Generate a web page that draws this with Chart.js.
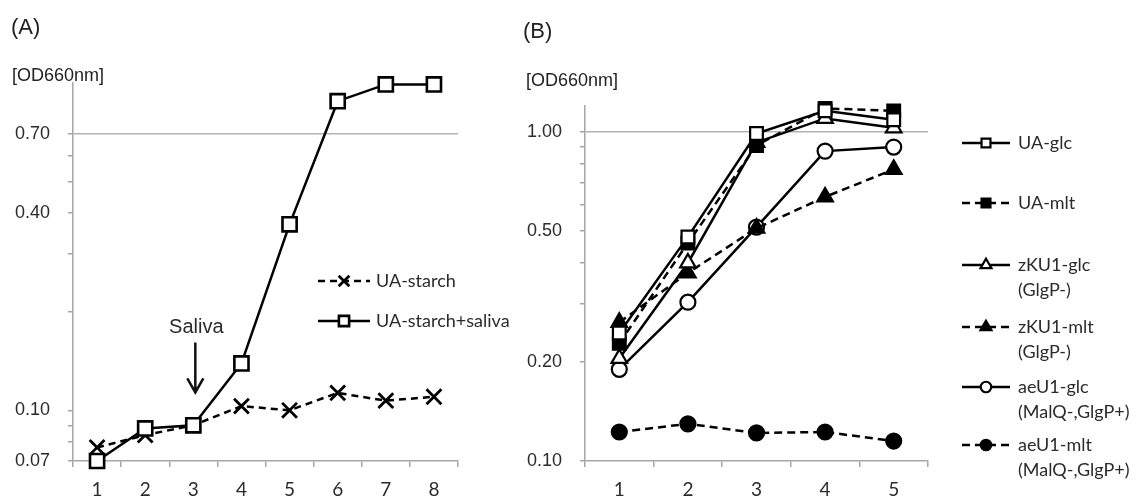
<!DOCTYPE html>
<html>
<head>
<meta charset="utf-8">
<script src="https://cdn.jsdelivr.net/npm/chart.js@4"></script>
<style>
  body { margin: 0; background: #fff; }
  #wrap { position: relative; width: 1138px; height: 500px; overflow: hidden; }
  canvas { position: absolute; top: 0; }
  .lbl { position: absolute; font-family: "Liberation Sans", Arial, sans-serif; color: #222; line-height: 1; white-space: nowrap; }
</style>
</head>
<body>
<div id="wrap">
  <canvas id="chartB" width="638" height="500" style="left:500px"></canvas>
  <canvas id="chartA" width="530" height="500" style="left:0"></canvas>
  <div class="lbl" style="left:11px;top:16px;font-size:22px">(A)</div>
  <div class="lbl" style="left:12px;top:66px;font-size:18px">[OD660nm]</div>
  <div class="lbl" style="left:523px;top:20px;font-size:22px">(B)</div>
  <div class="lbl" style="left:526px;top:71px;font-size:18px">[OD660nm]</div>
</div>
<script>
// ---- panel A data ----
const daysA = ['1', '2', '3', '4', '5', '6', '7', '8'];
const uaStarch = [0.077, 0.084, 0.090, 0.103, 0.100, 0.113, 0.107, 0.110];
const uaStarchSaliva = [0.070, 0.088, 0.090, 0.139, 0.370, 0.880, 0.990, 0.990];
const yTicksA = [0.07, 0.08, 0.09, 0.1, 0.2, 0.3, 0.4, 0.5, 0.6, 0.7];
const yLabelsA = [0.07, 0.1, 0.4, 0.7];
const gridLineA = 0.7;
// saliva added at day 3
const salivaDay = '3';
const salivaArrow = [0.161, 0.1134];
const salivaText = 0.179;

// ---- panel B data ----
const daysB = ['1', '2', '3', '4', '5'];
const uaGlc = [0.245, 0.48, 0.99, 1.16, 1.09];
const uaMlt = [0.228, 0.46, 0.91, 1.18, 1.16];
const zku1Glc = [0.205, 0.40, 0.93, 1.10, 1.03];
const zku1Mlt = [0.264, 0.373, 0.51, 0.635, 0.77];
const aeu1Glc = [0.19, 0.304, 0.514, 0.875, 0.90];
const aeu1Mlt = [0.1225, 0.1297, 0.1217, 0.1225, 0.115];
const yTicksB = [0.1, 0.2, 0.3, 0.4, 0.5, 0.6, 0.7, 0.8, 0.9, 1.0];
const yLabelsB = [0.1, 0.2, 0.5, 1.0];
const gridLineB = 1.0;

const axisGray = '#a6a6a6';
const textCol = '#2b2b2b';
const calibriLike = 'Lato, "Open Sans", sans-serif';
const arialLike = '"Liberation Sans", Arial, sans-serif';

// line + marker legend, drawn beside the plot (built-in legend can't combine dash and marker)
const sideLegend = {
  id: 'sideLegend',
  afterDraw(chart, args, opts) {
    const ctx = chart.ctx;
    opts.rows.forEach((y, i) => {
      const ds = chart.data.datasets[i];
      ctx.save();
      ctx.strokeStyle = ds.borderColor;
      ctx.lineWidth = opts.lineWidth;
      ctx.setLineDash(ds.borderDash || []);
      ctx.beginPath();
      ctx.moveTo(opts.x, y);
      ctx.lineTo(opts.x + opts.len, y);
      ctx.stroke();
      ctx.setLineDash([]);
      ctx.fillStyle = ds.pointBackgroundColor;
      ctx.strokeStyle = ds.pointBorderColor;
      ctx.lineWidth = ds.pointBorderWidth;
      Chart.helpers.drawPoint(ctx, {
        pointStyle: ds.pointStyle, rotation: 0,
        radius: ds.pointRadius * opts.markerScale, borderWidth: ds.pointBorderWidth
      }, opts.x + opts.len / 2, y);
      ctx.fillStyle = textCol;
      ctx.font = opts.font;
      ctx.textBaseline = 'middle';
      ctx.textAlign = 'left';
      ds.label.split('\n').forEach((line, k) => {
        ctx.fillText(line, opts.textX, y + k * opts.lineGap);
      });
      ctx.restore();
    });
  }
};

const salivaMark = {
  id: 'salivaMark',
  afterDatasetsDraw(chart) {
    const { ctx, scales: { x, y } } = chart;
    const px = x.getPixelForValue(daysA.indexOf(salivaDay));
    const top = y.getPixelForValue(salivaArrow[0]);
    const tip = y.getPixelForValue(salivaArrow[1]);
    ctx.save();
    ctx.strokeStyle = '#111';
    ctx.lineWidth = 2.5;
    ctx.beginPath();
    ctx.moveTo(px + 2, top);
    ctx.lineTo(px + 2, tip);
    ctx.moveTo(px - 6, tip - 14);
    ctx.lineTo(px + 2, tip);
    ctx.lineTo(px + 10, tip - 14);
    ctx.stroke();
    ctx.fillStyle = textCol;
    ctx.font = '20px ' + arialLike;
    ctx.textAlign = 'center';
    ctx.textBaseline = 'middle';
    ctx.fillText('Saliva', px + 3, y.getPixelForValue(salivaText));
    ctx.restore();
  }
};

function logAxis(ticks, labels, gridAt, min, max, width) {
  return {
    type: 'logarithmic',
    min: min,
    max: max,
    afterBuildTicks: s => { s.ticks = ticks.map(v => ({ value: v })); },
    afterFit: s => { s.width = width; },
    ticks: {
      autoSkip: false,
      padding: 18,
      color: textCol,
      font: { family: arialLike, size: 18 },
      callback: v => labels.includes(v) ? v.toFixed(2) : ''
    },
    grid: {
      color: c => (c.tick && c.tick.value === gridAt) ? '#b3b3b3' : 'rgba(0,0,0,0)',
      tickColor: axisGray,
      tickLength: 5,
      lineWidth: 1.5
    },
    border: { color: axisGray, width: 1.5 }
  };
}

function catAxis() {
  return {
    type: 'category',
    offset: true,
    afterFit: s => { s.height = 39; },
    ticks: { color: textCol, padding: 11, font: { family: calibriLike, size: 19 } },
    grid: { offset: true, drawOnChartArea: false, color: axisGray, tickColor: axisGray, tickLength: 6, lineWidth: 1.5 },
    border: { color: axisGray, width: 1.5 }
  };
}

function series(label, data, dashed, style, radius, fill) {
  return {
    label: label,
    data: data,
    borderColor: '#000',
    borderWidth: 2.5,
    borderDash: dashed ? [8, 5] : [],
    pointStyle: style,
    pointRadius: radius,
    pointBorderWidth: 2.2,
    pointBorderColor: '#000',
    pointBackgroundColor: fill ? '#000' : '#fff',
    tension: 0,
    clip: false
  };
}

new Chart(document.getElementById('chartA'), {
  type: 'line',
  data: {
    labels: daysA,
    datasets: [
      Object.assign(series('UA-starch', uaStarch, true, 'crossRot', 10.5, false), { pointBorderWidth: 2.8, borderDash: [7, 5], order: 1 }),
      Object.assign(series('UA-starch+saliva', uaStarchSaliva, false, 'rect', 10, false), { pointBorderWidth: 2.6, order: 0 })
    ]
  },
  options: {
    responsive: false,
    animation: false,
    layout: { padding: { left: 0, top: 83, right: 72, bottom: 0 } },
    scales: {
      x: catAxis(),
      y: logAxis(yTicksA, yLabelsA, gridLineA, 0.07, 1.0, 73)
    },
    plugins: {
      legend: { display: false },
      tooltip: { enabled: false },
      sideLegend: { x: 318, len: 52, textX: 376, rows: [281, 321], lineWidth: 2.5, markerScale: 0.72, lineGap: 25, font: '18px ' + calibriLike }
    }
  },
  plugins: [sideLegend, salivaMark]
});

new Chart(document.getElementById('chartB'), {
  type: 'line',
  data: {
    labels: daysB,
    datasets: [
      series('UA-glc', uaGlc, false, 'rect', 9, false),
      series('UA-mlt', uaMlt, true, 'rect', 9, true),
      series('zKU1-glc\n(GlgP-)', zku1Glc, false, 'triangle', 9, false),
      series('zKU1-mlt\n(GlgP-)', zku1Mlt, true, 'triangle', 9, true),
      series('aeU1-glc\n(MalQ-,GlgP+)', aeu1Glc, false, 'circle', 7.5, false),
      series('aeU1-mlt\n(MalQ-,GlgP+)', aeu1Mlt, true, 'circle', 7.5, true)
    ]
  },
  options: {
    responsive: false,
    animation: false,
    layout: { padding: { left: 0, top: 106, right: 210, bottom: 0 } },
    scales: {
      x: catAxis(),
      y: logAxis(yTicksB, yLabelsB, gridLineB, 0.1, 1.2, 85)
    },
    plugins: {
      legend: { display: false },
      tooltip: { enabled: false },
      sideLegend: { x: 462, len: 48, textX: 518, rows: [143, 203, 265, 327, 387, 445], lineWidth: 2.5, markerScale: 0.7, lineGap: 25, font: '18px ' + calibriLike }
    }
  },
  plugins: [sideLegend]
});
</script>
</body>
</html>
